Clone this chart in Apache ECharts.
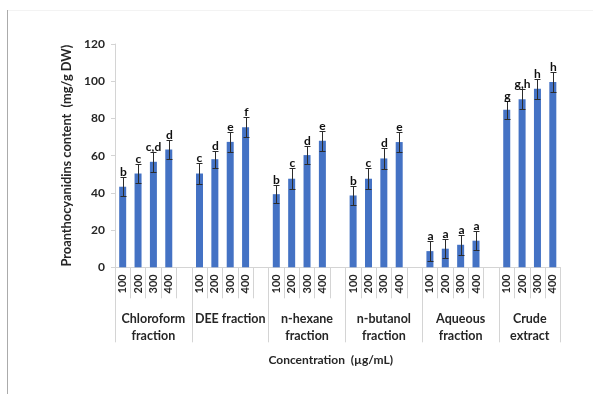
<!DOCTYPE html>
<html>
<head>
<meta charset="utf-8">
<script src="https://cdn.jsdelivr.net/npm/echarts@6/dist/echarts.min.js"></script>
<style>
  html, body { margin: 0; padding: 0; background: #ffffff; }
  #chart { width: 593px; height: 394px; }
</style>
</head>
<body>
<div id="chart"></div>
<script>
// Extract groups and concentrations (µg/mL)
const groups = ['Chloroform\nfraction', 'DEE fraction', 'n-hexane\nfraction', 'n-butanol\nfraction', 'Aqueous\nfraction', 'Crude\nextract'];
const concentrations = ['100', '200', '300', '400'];

// Proanthocyanidins content (mg/g DW), mean per concentration
const chloroform = [43.3, 50.4, 56.7, 63.3];
const dee = [50.4, 58.1, 67.4, 75.3];
const nHexane = [39.3, 47.6, 60.3, 68.0];
const nButanol = [38.6, 47.6, 58.5, 67.3];
const aqueous = [8.7, 10.0, 12.1, 14.3];
const crude = [84.6, 90.3, 95.9, 99.6];

// Standard deviations
const chloroformErr = [5.0, 5.0, 5.5, 5.0];
const deeErr = [5.5, 4.5, 5.5, 5.5];
const nHexaneErr = [5.0, 5.5, 5.0, 5.5];
const nButanolErr = [5.0, 5.5, 5.5, 5.5];
const aqueousErr = [5.3, 5.0, 5.3, 5.2];
const crudeErr = [5.0, 5.3, 5.2, 5.5];

// Significance letters
const chloroformSig = ['b', 'c', 'c,d', 'd'];
const deeSig = ['c', 'd', 'e', 'f'];
const nHexaneSig = ['b', 'c', 'd', 'e'];
const nButanolSig = ['b', 'c', 'd', 'e'];
const aqueousSig = ['a', 'a', 'a', 'a'];
const crudeSig = ['g', 'g,h', 'h', 'h'];

const yTicks = [0, 20, 40, 60, 80, 100, 120];

const means = [chloroform, dee, nHexane, nButanol, aqueous, crude];
const errs = [chloroformErr, deeErr, nHexaneErr, nButanolErr, aqueousErr, crudeErr];
const sigs = [chloroformSig, deeSig, nHexaneSig, nButanolSig, aqueousSig, crudeSig];

// One slot per bar, plus an empty slot between consecutive groups
const categories = [];
const barData = [];
const errData = [];
const groupEdges = [0];
const groupCenters = [];
groups.forEach(function (g, gi) {
  const start = categories.length;
  concentrations.forEach(function (c, ci) {
    const idx = categories.length;
    categories.push(c);
    barData.push(means[gi][ci]);
    errData.push([idx, means[gi][ci], errs[gi][ci], sigs[gi][ci]]);
  });
  if (gi < groups.length - 1) {
    categories.push('');
    barData.push('-');
  }
  const end = categories.length;
  groupEdges.push(end);
  groupCenters.push((start + end) / 2);
});

const FONT = 'Lato, "Open Sans", sans-serif';
const AXIS_GRAY = '#d4d4d4';

const chart = echarts.init(document.getElementById('chart'), null, { renderer: 'canvas' });

chart.setOption({
  animation: false,
  backgroundColor: '#ffffff',
  grid: { left: 115, right: 32.5, top: 44, bottom: 126.7, containLabel: false },
  graphic: [
    { type: 'line', shape: { x1: 7.5, y1: 10, x2: 7.5, y2: 394 }, style: { stroke: '#ababab', lineWidth: 1 } },
    { type: 'line', shape: { x1: 8, y1: 10.5, x2: 593, y2: 10.5 }, style: { stroke: '#f3f3f3', lineWidth: 1 } }
  ],
  xAxis: [
    {
      type: 'category',
      data: categories,
      position: 'bottom',
      axisLine: { show: true, lineStyle: { color: AXIS_GRAY, width: 1 } },
      axisTick: { show: true, interval: 0, alignWithLabel: false, length: 31, lineStyle: { color: AXIS_GRAY } },
      axisLabel: {
        interval: 0, rotate: 90, margin: 7,
        fontFamily: FONT, fontSize: 11, fontWeight: 'bold', color: '#262626'
      },
      splitLine: { show: false }
    },
    {
      type: 'value',
      min: 0,
      max: categories.length,
      position: 'bottom',
      axisLine: { show: false },
      axisTick: { show: true, customValues: groupEdges, length: 75, lineStyle: { color: AXIS_GRAY } },
      axisLabel: {
        show: true,
        customValues: groupCenters,
        margin: 43,
        lineHeight: 17,
        fontFamily: FONT, fontSize: 12.5, fontWeight: 'bold', color: '#262626',
        verticalAlign: 'top',
        formatter: function (v) {
          const i = groupCenters.indexOf(v);
          return i >= 0 ? groups[i] : '';
        }
      },
      splitLine: { show: false },
      name: 'Concentration  (µg/mL)',
      nameLocation: 'middle',
      nameGap: 87,
      nameTextStyle: { fontFamily: FONT, fontSize: 12, fontWeight: 'bold', color: '#262626', padding: [0, 14, 0, 0] }
    }
  ],
  yAxis: {
    type: 'value',
    min: yTicks[0],
    max: yTicks[yTicks.length - 1],
    interval: yTicks[1] - yTicks[0],
    axisLine: { show: true, lineStyle: { color: AXIS_GRAY } },
    axisTick: { show: true, length: 4, lineStyle: { color: AXIS_GRAY } },
    axisLabel: { margin: 10, fontFamily: FONT, fontSize: 12, fontWeight: 'bold', color: '#262626' },
    splitLine: { show: false },
    name: 'Proanthocyanidins content  (mg/g DW)',
    nameLocation: 'middle',
    nameGap: 32,
    nameTextStyle: { fontFamily: FONT, fontSize: 12.8, fontWeight: 'bold', color: '#262626' }
  },
  series: [
    {
      type: 'bar',
      xAxisIndex: 0,
      data: barData,
      barWidth: 7,
      itemStyle: { color: '#4472c4' }
    },
    {
      type: 'custom',
      xAxisIndex: 0,
      data: errData,
      z: 5,
      renderItem: function (params, api) {
        const idx = api.value(0);
        const v = api.value(1);
        const e = api.value(2);
        const top = api.coord([idx, v + e]);
        const bot = api.coord([idx, v - e]);
        const x = Math.round(top[0]) + 0.5;
        const ty = Math.round(top[1]) + 0.5;
        const by = Math.round(bot[1]) + 0.5;
        const cap = 3;
        const stroke = { stroke: '#2b2b2b', lineWidth: 1 };
        return {
          type: 'group',
          children: [
            { type: 'line', shape: { x1: x, y1: ty, x2: x, y2: by }, style: stroke },
            { type: 'line', shape: { x1: x - cap, y1: ty, x2: x + cap, y2: ty }, style: stroke },
            { type: 'line', shape: { x1: x - cap, y1: by, x2: x + cap, y2: by }, style: stroke },
            {
              type: 'text',
              x: x,
              y: ty + 1,
              style: {
                text: errData[params.dataIndex][3],
                align: 'center',
                verticalAlign: 'bottom',
                fontFamily: FONT,
                fontSize: 12,
                fontWeight: 'bold',
                fill: '#111111'
              }
            }
          ]
        };
      }
    }
  ]
});
</script>
</body>
</html>
